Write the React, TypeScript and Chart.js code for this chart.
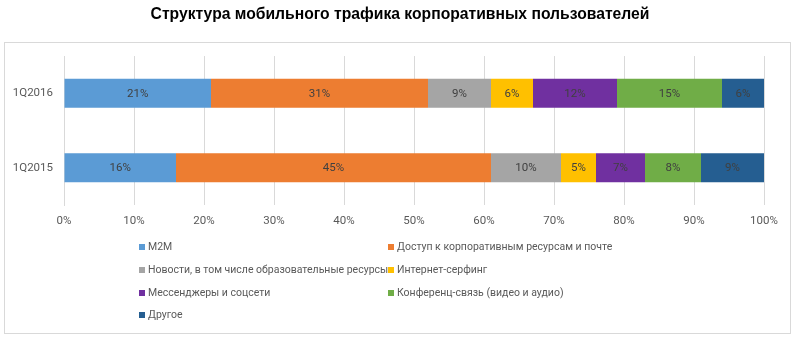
import React, { useEffect, useRef } from "react";
import { Chart, registerables } from "chart.js";

Chart.register(...registerables);

const TITLE = "Структура мобильного трафика корпоративных пользователей";
const categories = ["1Q2016", "1Q2015"];
const seriesNames = [
  "M2M",
  "Доступ к корпоративным ресурсам и почте",
  "Новости, в том числе образовательные ресурсы",
  "Интернет-серфинг",
  "Мессенджеры и соцсети",
  "Конференц-связь (видео и аудио)",
  "Другое",
];
const m2m = [21, 16];
const corporate = [31, 45];
const news = [9, 10];
const surfing = [6, 5];
const messengers = [12, 7];
const conference = [15, 8];
const other = [6, 9];
const seriesValues = [m2m, corporate, news, surfing, messengers, conference, other];
const seriesColors = ["#5B9BD5", "#ED7D31", "#A5A5A5", "#FFC000", "#7030A0", "#70AD47", "#255E91"];
const xTicks = [0, 10, 20, 30, 40, 50, 60, 70, 80, 90, 100];

const FONT = "Roboto, 'Noto Sans', sans-serif";

const framePlugin = {
  id: "frame",
  beforeDraw(chart: any) {
    const ctx = chart.ctx;
    ctx.save();
    ctx.fillStyle = "#FFFFFF";
    ctx.fillRect(0, 0, chart.width, chart.height);
    ctx.strokeStyle = "#D9D9D9";
    ctx.lineWidth = 1;
    ctx.strokeRect(4.5, 42.5, 786, 291);
    ctx.restore();
  },
};

const dataLabelPlugin = {
  id: "dataLabels",
  afterDatasetsDraw(chart: any) {
    const ctx = chart.ctx;
    ctx.save();
    ctx.font = `11.5px ${FONT}`;
    ctx.fillStyle = "#404040";
    ctx.textAlign = "center";
    ctx.textBaseline = "middle";
    chart.data.datasets.forEach((ds: any, di: number) => {
      const meta = chart.getDatasetMeta(di);
      meta.data.forEach((el: any, i: number) => {
        const p = el.getCenterPoint();
        ctx.fillText(`${ds.data[i]}%`, p.x, p.y + 0.5);
      });
    });
    ctx.restore();
  },
};

const legendPlugin = {
  id: "customLegend",
  afterDraw(chart: any) {
    const ctx = chart.ctx;
    const colX = [139, 388];
    const rowY = [247, 270, 293, 315];
    ctx.save();
    ctx.font = `10.5px ${FONT}`;
    ctx.textAlign = "left";
    ctx.textBaseline = "middle";
    chart.data.datasets.forEach((ds: any, i: number) => {
      const x = colX[i % 2];
      const y = rowY[Math.floor(i / 2)];
      ctx.fillStyle = ds.backgroundColor;
      ctx.fillRect(x, y - 3, 6, 6);
      ctx.fillStyle = "#595959";
      ctx.fillText(ds.label, x + 9, y + 0.5);
    });
    ctx.restore();
  },
};

export default function App() {
  const ref = useRef<HTMLCanvasElement>(null);

  useEffect(() => {
    document.body.style.margin = "0";
    const canvas = ref.current;
    if (!canvas) return;
    const chart = new Chart(canvas, {
      type: "bar",
      data: {
        labels: categories,
        datasets: seriesNames.map((name, i) => ({
          label: name,
          data: seriesValues[i],
          backgroundColor: seriesColors[i],
          borderWidth: 0,
          barPercentage: 0.39,
          categoryPercentage: 1,
        })),
      },
      options: {
        indexAxis: "y",
        responsive: false,
        animation: false,
        layout: { padding: { left: 4, right: 4, top: 0, bottom: 0 } },
        plugins: {
          legend: { display: false },
          tooltip: { enabled: false },
          title: {
            display: true,
            text: TITLE,
            color: "#000000",
            font: { family: "'Liberation Sans', Arial, sans-serif", size: 15.7, weight: "bold" },
            padding: { top: 5, bottom: 32.2 },
          },
        },
        scales: {
          x: {
            stacked: true,
            min: 0,
            max: 100,
            afterBuildTicks: (s: any) => {
              s.ticks = xTicks.map((v) => ({ value: v }));
            },
            ticks: {
              color: "#595959",
              font: { family: FONT, size: 11.5 },
              padding: 9,
              callback: (v: any) => `${v}%`,
            },
            grid: { color: "#D9D9D9", drawTicks: false },
            border: { display: false },
            afterFit: (s: any) => {
              s.height = 148;
            },
          },
          y: {
            stacked: true,
            grid: { display: false, drawTicks: false },
            border: { display: true, color: "#D9D9D9" },
            ticks: {
              color: "#595959",
              font: { family: FONT, size: 11.5 },
              padding: 11,
            },
            afterFit: (s: any) => {
              s.width = 60;
            },
          },
          yRightSpace: {
            type: "category",
            position: "right",
            labels: categories,
            grid: { display: false, drawTicks: false },
            border: { display: false },
            ticks: { display: false },
            afterFit: (s: any) => {
              s.width = 32;
            },
          },
        },
      } as any,
      plugins: [framePlugin, dataLabelPlugin, legendPlugin],
    });
    return () => chart.destroy();
  }, []);

  return (
    <div style={{ position: "absolute", left: 0, top: 0, width: 800, height: 353 }}>
      <canvas ref={ref} width={800} height={353} />
    </div>
  );
}
